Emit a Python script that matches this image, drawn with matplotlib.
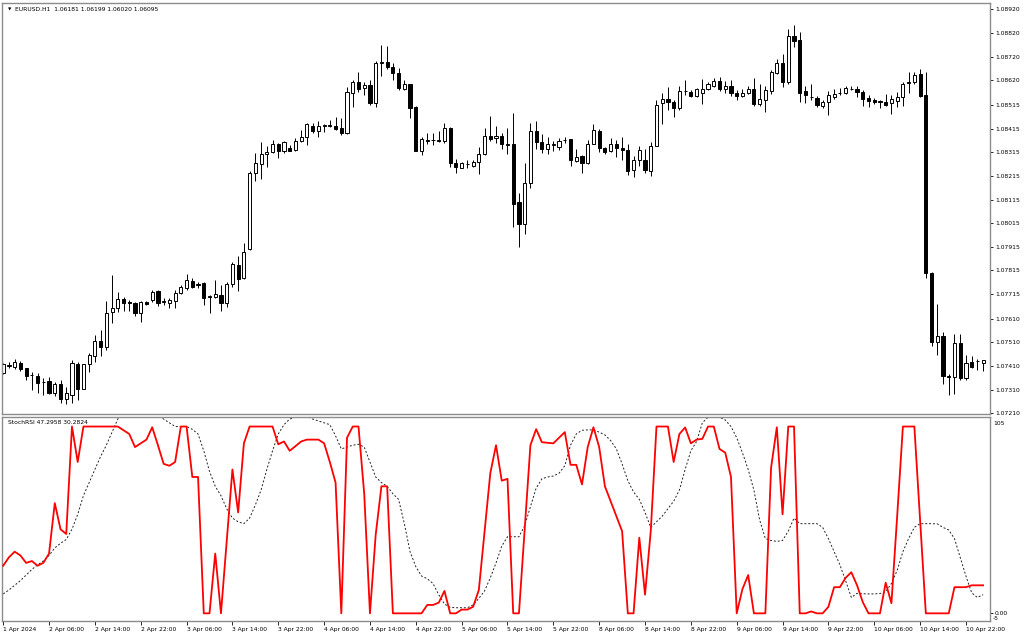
import matplotlib
matplotlib.use('Agg')
from matplotlib import pyplot as plt
import numpy as np

# EURUSD H1 bars, 1 Apr 22:00 .. 11 Apr 01:00 (broker time)
opens = [1.07379, 1.07410, 1.07404, 1.07424, 1.07400, 1.07372, 1.07369, 1.07342, 1.07346, 1.07296,
         1.07332, 1.07269, 1.07287, 1.07417, 1.07313, 1.07418, 1.07452, 1.07515, 1.07491, 1.07640,
         1.07657, 1.07693, 1.07680, 1.07678, 1.07636, 1.07682, 1.07689, 1.07727, 1.07680, 1.07679,
         1.07685, 1.07720, 1.07739, 1.07771, 1.07756, 1.07760, 1.07701, 1.07703, 1.07710, 1.07675,
         1.07756, 1.07837, 1.07781, 1.07904, 1.08228, 1.08265, 1.08306, 1.08317, 1.08348, 1.08320,
         1.08335, 1.08324, 1.08363, 1.08378, 1.08426, 1.08406, 1.08427, 1.08429, 1.08426, 1.08418,
         1.08395, 1.08567, 1.08613, 1.08588, 1.08599, 1.08524, 1.08695, 1.08697, 1.08677, 1.08649,
         1.08585, 1.08602, 1.08505, 1.08320, 1.08365, 1.08368, 1.08365, 1.08361, 1.08416, 1.08270,
         1.08249, 1.08266, 1.08258, 1.08272, 1.08306, 1.08385, 1.08374, 1.08385, 1.08344, 1.08348,
         1.08103, 1.08011, 1.08187, 1.08404, 1.08357, 1.08331, 1.08347, 1.08338, 1.08368, 1.08371,
         1.08278, 1.08300, 1.08268, 1.08352, 1.08404, 1.08335, 1.08320, 1.08348, 1.08335, 1.08324,
         1.08239, 1.08282, 1.08282, 1.08236, 1.08342, 1.08522, 1.08539, 1.08526, 1.08501, 1.08575,
         1.08571, 1.08554, 1.08568, 1.08582, 1.08596, 1.08617, 1.08585, 1.08596, 1.08568, 1.08554,
         1.08567, 1.08581, 1.08519, 1.08536, 1.08575, 1.08649, 1.08694, 1.08611, 1.08808, 1.08790,
         1.08575, 1.08551, 1.08543, 1.08510, 1.08526, 1.08550, 1.08566, 1.08564, 1.08583, 1.08585,
         1.08571, 1.08543, 1.08536, 1.08530, 1.08529, 1.08522, 1.08533, 1.08547, 1.08609, 1.08613,
         1.08645, 1.08557, 1.07806, 1.07513, 1.07537, 1.07366, 1.07364, 1.07506, 1.07360, 1.07428,
         1.07431, 1.07425]
highs = [1.07424, 1.07428, 1.07438, 1.07432, 1.07402, 1.07386, 1.07379, 1.07358, 1.07364, 1.07343,
         1.07350, 1.07322, 1.07435, 1.07428, 1.07418, 1.07466, 1.07541, 1.07562, 1.07685, 1.07795,
         1.07724, 1.07703, 1.07689, 1.07682, 1.07685, 1.07685, 1.07731, 1.07731, 1.07696, 1.07696,
         1.07731, 1.07753, 1.07798, 1.07781, 1.07767, 1.07767, 1.07710, 1.07774, 1.07753, 1.07767,
         1.07849, 1.07877, 1.07929, 1.08236, 1.08310, 1.08359, 1.08341, 1.08369, 1.08355, 1.08363,
         1.08345, 1.08374, 1.08409, 1.08437, 1.08440, 1.08447, 1.08434, 1.08451, 1.08465, 1.08462,
         1.08592, 1.08620, 1.08655, 1.08613, 1.08623, 1.08702, 1.08771, 1.08764, 1.08694, 1.08670,
         1.08620, 1.08602, 1.08510, 1.08380, 1.08397, 1.08397, 1.08404, 1.08440, 1.08420, 1.08285,
         1.08275, 1.08282, 1.08282, 1.08338, 1.08416, 1.08468, 1.08426, 1.08395, 1.08418, 1.08482,
         1.08141, 1.08268, 1.08437, 1.08447, 1.08392, 1.08380, 1.08362, 1.08374, 1.08378, 1.08371,
         1.08331, 1.08303, 1.08366, 1.08434, 1.08412, 1.08338, 1.08374, 1.08366, 1.08378, 1.08352,
         1.08299, 1.08341, 1.08327, 1.08359, 1.08536, 1.08567, 1.08592, 1.08536, 1.08595, 1.08623,
         1.08578, 1.08589, 1.08625, 1.08613, 1.08628, 1.08634, 1.08617, 1.08623, 1.08578, 1.08581,
         1.08595, 1.08628, 1.08602, 1.08595, 1.08663, 1.08712, 1.08733, 1.08839, 1.08853, 1.08825,
         1.08596, 1.08603, 1.08553, 1.08536, 1.08575, 1.08585, 1.08589, 1.08595, 1.08595, 1.08595,
         1.08578, 1.08557, 1.08543, 1.08536, 1.08561, 1.08557, 1.08571, 1.08613, 1.08655, 1.08655,
         1.08666, 1.08653, 1.07809, 1.07672, 1.07553, 1.07375, 1.07544, 1.07544, 1.07456, 1.07452,
         1.07438, 1.07435]
lows = [1.07376, 1.07400, 1.07396, 1.07390, 1.07353, 1.07308, 1.07294, 1.07287, 1.07291, 1.07283,
        1.07252, 1.07249, 1.07252, 1.07266, 1.07311, 1.07386, 1.07428, 1.07452, 1.07477, 1.07591,
        1.07640, 1.07644, 1.07644, 1.07622, 1.07597, 1.07668, 1.07682, 1.07664, 1.07668, 1.07654,
        1.07654, 1.07714, 1.07734, 1.07739, 1.07739, 1.07668, 1.07636, 1.07696, 1.07644, 1.07661,
        1.07745, 1.07727, 1.07777, 1.07901, 1.08193, 1.08200, 1.08253, 1.08313, 1.08289, 1.08313,
        1.08319, 1.08321, 1.08358, 1.08345, 1.08395, 1.08380, 1.08399, 1.08420, 1.08409, 1.08388,
        1.08391, 1.08507, 1.08571, 1.08557, 1.08515, 1.08505, 1.08639, 1.08666, 1.08620, 1.08578,
        1.08578, 1.08461, 1.08320, 1.08303, 1.08349, 1.08345, 1.08357, 1.08355, 1.08253, 1.08228,
        1.08247, 1.08247, 1.08251, 1.08222, 1.08303, 1.08361, 1.08355, 1.08327, 1.08306, 1.07999,
        1.07915, 1.07969, 1.08162, 1.08331, 1.08310, 1.08306, 1.08320, 1.08324, 1.08355, 1.08256,
        1.08275, 1.08228, 1.08265, 1.08348, 1.08317, 1.08307, 1.08317, 1.08296, 1.08282, 1.08218,
        1.08209, 1.08256, 1.08228, 1.08214, 1.08341, 1.08433, 1.08493, 1.08465, 1.08493, 1.08557,
        1.08550, 1.08547, 1.08519, 1.08578, 1.08592, 1.08575, 1.08567, 1.08553, 1.08536, 1.08550,
        1.08561, 1.08510, 1.08510, 1.08486, 1.08561, 1.08645, 1.08592, 1.08602, 1.08759, 1.08529,
        1.08522, 1.08536, 1.08507, 1.08501, 1.08472, 1.08540, 1.08557, 1.08561, 1.08578, 1.08547,
        1.08510, 1.08507, 1.08519, 1.08501, 1.08510, 1.08476, 1.08507, 1.08510, 1.08564, 1.08603,
        1.08547, 1.07781, 1.07495, 1.07456, 1.07332, 1.07287, 1.07290, 1.07350, 1.07353, 1.07400,
        1.07393, 1.07390]
closes = [1.07418, 1.07416, 1.07428, 1.07397, 1.07369, 1.07370, 1.07339, 1.07344, 1.07296, 1.07334,
          1.07269, 1.07294, 1.07424, 1.07313, 1.07417, 1.07457, 1.07515, 1.07491, 1.07636, 1.07657,
          1.07692, 1.07678, 1.07679, 1.07633, 1.07682, 1.07671, 1.07724, 1.07679, 1.07685, 1.07689,
          1.07720, 1.07745, 1.07774, 1.07745, 1.07754, 1.07699, 1.07705, 1.07714, 1.07679, 1.07756,
          1.07842, 1.07778, 1.07891, 1.08228, 1.08268, 1.08306, 1.08317, 1.08348, 1.08321, 1.08357,
          1.08321, 1.08363, 1.08378, 1.08433, 1.08404, 1.08427, 1.08429, 1.08427, 1.08414, 1.08397,
          1.08571, 1.08613, 1.08585, 1.08599, 1.08524, 1.08695, 1.08698, 1.08677, 1.08649, 1.08588,
          1.08602, 1.08501, 1.08320, 1.08371, 1.08363, 1.08369, 1.08363, 1.08416, 1.08268, 1.08251,
          1.08268, 1.08264, 1.08272, 1.08306, 1.08385, 1.08371, 1.08385, 1.08348, 1.08352, 1.08098,
          1.08011, 1.08187, 1.08404, 1.08357, 1.08328, 1.08349, 1.08349, 1.08362, 1.08369, 1.08282,
          1.08296, 1.08268, 1.08352, 1.08409, 1.08335, 1.08317, 1.08348, 1.08335, 1.08324, 1.08235,
          1.08282, 1.08324, 1.08239, 1.08342, 1.08515, 1.08539, 1.08526, 1.08501, 1.08575, 1.08576,
          1.08554, 1.08582, 1.08582, 1.08603, 1.08617, 1.08582, 1.08595, 1.08564, 1.08554, 1.08567,
          1.08581, 1.08519, 1.08540, 1.08578, 1.08655, 1.08691, 1.08611, 1.08808, 1.08787, 1.08568,
          1.08557, 1.08549, 1.08515, 1.08526, 1.08557, 1.08561, 1.08568, 1.08589, 1.08584, 1.08571,
          1.08540, 1.08533, 1.08526, 1.08529, 1.08515, 1.08539, 1.08550, 1.08603, 1.08611, 1.08642,
          1.08553, 1.07802, 1.07513, 1.07537, 1.07367, 1.07364, 1.07506, 1.07360, 1.07424, 1.07407,
          1.07432, 1.07435]

stoch_main = [25.5, 30, 33, 31, 27, 28, 25.5, 27, 32, 59,
              45, 42.5, 100, 81, 100, 100, 100, 100, 100, 100,
              100, 98, 96, 89, 91, 93, 99.6, 90, 80, 79,
              81, 100, 100, 73, 73, 0, 0, 32, 0, 38.5,
              77, 54, 91, 100, 100, 100, 100, 100, 90.5, 92,
              87, 89.5, 92, 93, 93, 93, 91, 81, 70, 0,
              94, 100, 100, 64, 0, 42, 68, 68, 0, 0,
              0, 0, 0, 0, 4.5, 4.5, 5.7, 12, 0, 0,
              2, 2, 3.5, 12.5, 44, 75, 90, 71, 72, 0,
              0, 45, 90, 98.6, 91.6, 91.3, 91, 94, 97, 79.5,
              79.5, 69, 89, 99.6, 89, 68, 60, 52, 44, 0,
              0, 40.5, 10, 44, 100, 100, 100, 81, 96, 99.5,
              91, 93, 93.4, 100, 100, 88, 86, 73, 0, 13,
              20.5, 0, 0, 0, 78, 99.6, 53, 100, 100, 0,
              0, 1, 0, 0, 3.5, 14, 14, 19, 22, 15,
              6, 0, 0, 0, 16.4, 5.4, 52, 100, 100, 100,
              50, 0, 0, 0, 0, 0, 14, 14, 14, 15,
              15, 15]
stoch_signal = [10.4, 12.5, 15, 17.5, 20.5, 23.5, 26, 28, 31, 35,
                37.5, 39.5, 45, 53, 63, 70, 77, 84, 90, 97,
                104, 108, 110, 111, 111, 110, 108, 106, 104, 102,
                100, 100, 100, 98.5, 96, 87, 76, 68, 63, 56,
                51, 49, 48, 51, 58, 66, 77, 87, 96, 101,
                104, 105, 106, 105.5, 104, 103, 102, 101, 95, 88,
                89, 90, 90.5, 89, 81, 73, 70, 68, 64, 61,
                48, 33, 25, 20, 18.5, 16, 10, 5, 3.2, 3,
                3, 3, 4.5, 8, 12, 19, 27, 36, 41, 41,
                41, 47, 57, 67, 72, 73, 73.5, 75, 79, 90,
                96, 98, 98.2, 98.2, 97, 95.5, 92.5, 88, 80, 71,
                65, 61, 54, 46, 49, 52, 56, 60, 66, 77,
                87, 92, 102, 105, 105.5, 105, 103.5, 100, 94, 86,
                77, 66, 50, 40, 39, 38.5, 39, 44, 51, 48,
                48, 48, 48, 46, 40, 33, 26, 17.5, 8.5, 10.7,
                10.5, 10.4, 10.4, 10.6, 11.6, 16, 23, 33, 40, 46,
                48, 48, 48, 47.9, 46, 44.6, 40, 30, 20, 11,
                8.5, 10]

price_ticks = [1.08920, 1.08820, 1.08720, 1.08620, 1.08515, 1.08415, 1.08315, 1.08215, 1.08115,
               1.08015, 1.07915, 1.07815, 1.07715, 1.07610, 1.07510, 1.07410, 1.07310, 1.07210]
time_labels = ['1 Apr 2024', '2 Apr 06:00', '2 Apr 14:00', '2 Apr 22:00', '3 Apr 06:00', '3 Apr 14:00',
               '3 Apr 22:00', '4 Apr 06:00', '4 Apr 14:00', '4 Apr 22:00', '5 Apr 06:00', '5 Apr 14:00',
               '5 Apr 22:00', '8 Apr 06:00', '8 Apr 14:00', '8 Apr 22:00', '9 Apr 06:00', '9 Apr 14:00',
               '9 Apr 22:00', '10 Apr 06:00', '10 Apr 14:00', '10 Apr 22:00']
label_step = 8

plt.rcParams['font.family'] = ['DejaVu Sans']
FS = 4.3
frame = '#8c8c8c'

W, H = 1024, 639
fig = plt.figure(figsize=(W / 100, H / 100), dpi=100, facecolor='white')
left, right = 2, 990
ax = fig.add_axes([left / W, 1 - 414 / H, (right - left) / W, 411 / H])
ax2 = fig.add_axes([left / W, 1 - 621 / H, (right - left) / W, 204 / H], sharex=ax)

o = np.array(opens)
h = np.array(highs)
l = np.array(lows)
c = np.array(closes)
idx = np.arange(len(o))
up = c >= o

# candles
ax.vlines(idx, l, h, color='black', linewidth=0.7, zorder=1)
body_lo = np.minimum(o, c)
body_h = np.maximum(np.abs(c - o), 0.000004)
ax.bar(idx[up], body_h[up], 0.55, bottom=body_lo[up], color='white', edgecolor='black',
       linewidth=0.7, zorder=2)
ax.bar(idx[~up], body_h[~up], 0.55, bottom=body_lo[~up], color='black', edgecolor='black',
       linewidth=0.7, zorder=2)

ax.set_xlim(-0.21, 172.2)
ax.set_ylim(1.07207, 1.08947)
ax.yaxis.tick_right()
ax.set_yticks(price_ticks)
ax.set_yticklabels(['%.5f' % p for p in price_ticks])
ax.tick_params(axis='y', labelsize=FS, length=2, width=0.6, pad=1.5, colors='black')
ax.tick_params(axis='x', bottom=False, labelbottom=False)
for s in ax.spines.values():
    s.set_color(frame)
    s.set_linewidth(1.0)

ax.text(0.006, 0.988, '\u25bc', transform=ax.transAxes, fontsize=3.2, va='top', ha='left')
ax.text(0.0135, 0.99, 'EURUSD.H1  1.06181 1.06199 1.06020 1.06095', transform=ax.transAxes,
        fontsize=FS, va='top', ha='left')

# StochRSI panel
ax2.plot(idx, stoch_main, color='red', linewidth=1.3, zorder=3)
ax2.plot(idx, stoch_signal, color='#222222', linewidth=0.7, linestyle=(0, (2, 2)), zorder=2)
ax2.set_ylim(-4.1, 105.1)
ax2.yaxis.tick_right()
ax2.set_yticks([0])
ax2.set_yticklabels(['0.00'])
ax2.tick_params(axis='y', labelsize=FS, length=2, width=0.6, pad=1.5)
ax2.text(1.003, 0.97, '105', transform=ax2.transAxes, fontsize=FS, va='center', ha='left')
ax2.text(1.003, 0.01, '-5', transform=ax2.transAxes, fontsize=FS, va='center', ha='left')
ax2.text(0.006, 0.985, 'StochRSI 47.2958 30.2824', transform=ax2.transAxes, fontsize=FS,
         va='top', ha='left')

ticks = idx[::label_step]
ax2.set_xticks(ticks)
ax2.set_xticklabels(time_labels, ha='left')
ax2.tick_params(axis='x', labelsize=FS, length=3, width=0.6, pad=1)
for lab in ax2.get_xticklabels():
    lab.set_x(lab.get_position()[0])
for s in ax2.spines.values():
    s.set_color(frame)
    s.set_linewidth(1.0)

fig.savefig('out.png', dpi=100, facecolor='white')
